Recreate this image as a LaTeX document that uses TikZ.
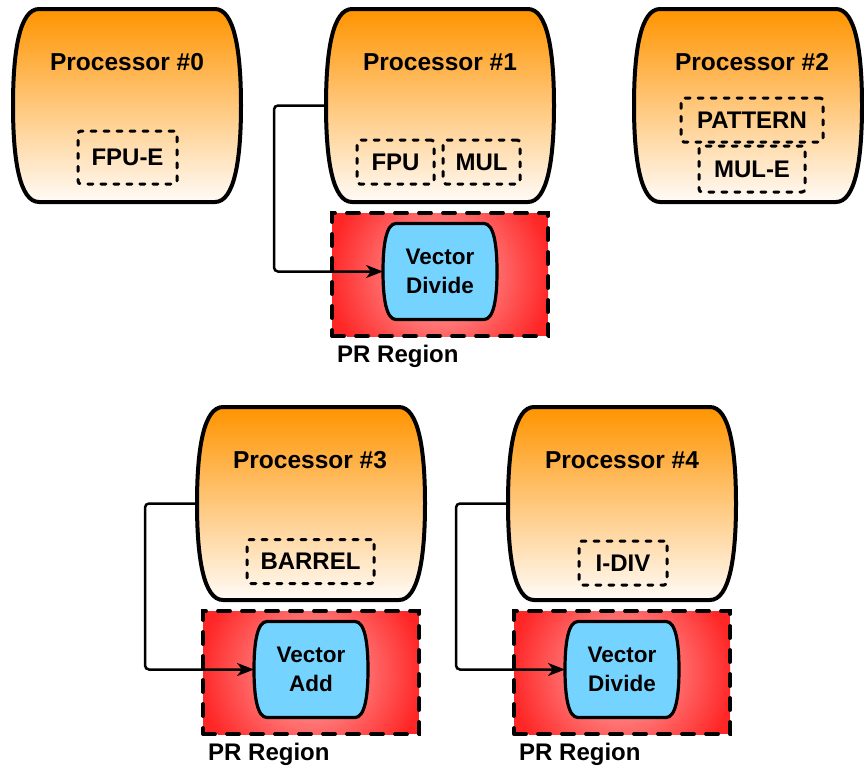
\documentclass[tikz,border=0pt]{standalone}
\usepackage{fontspec}
\setmainfont{Liberation Sans}
\usetikzlibrary{positioning,arrows.meta}

% barrel outline: flat top and bottom, sides bulging out
\makeatletter
\pgfdeclareshape{barrel}{%
  \inheritsavedanchors[from=rectangle]%
  \inheritanchorborder[from=rectangle]%
  \inheritanchor[from=rectangle]{center}%
  \inheritanchor[from=rectangle]{north}%
  \inheritanchor[from=rectangle]{south}%
  \inheritanchor[from=rectangle]{east}%
  \inheritanchor[from=rectangle]{west}%
  \inheritanchor[from=rectangle]{north east}%
  \inheritanchor[from=rectangle]{north west}%
  \inheritanchor[from=rectangle]{south east}%
  \inheritanchor[from=rectangle]{south west}%
  \backgroundpath{%
    \southwest \pgf@xa=\pgf@x \pgf@ya=\pgf@y
    \northeast \pgf@xb=\pgf@x \pgf@yb=\pgf@y
    \edef\brlL{\strip@pt\pgf@xa}\edef\brlB{\strip@pt\pgf@ya}%
    \edef\brlR{\strip@pt\pgf@xb}\edef\brlT{\strip@pt\pgf@yb}%
    \pgfmathsetmacro\brlA{0.135*(\brlT-\brlB)}%
    \pgfmathsetmacro\brlC{0.22*(\brlT-\brlB)}%
    \pgfmathsetmacro\brlM{0.5*(\brlT+\brlB)}%
    \pgfpathmoveto{\pgfpoint{\brlL+\brlA}{\brlT}}%
    \pgfpathlineto{\pgfpoint{\brlR-\brlA}{\brlT}}%
    \pgfpathcurveto{\pgfpoint{\brlR-0.25*\brlA}{\brlT}}{\pgfpoint{\brlR}{\brlT-\brlC}}{\pgfpoint{\brlR}{\brlM}}%
    \pgfpathcurveto{\pgfpoint{\brlR}{\brlB+\brlC}}{\pgfpoint{\brlR-0.25*\brlA}{\brlB}}{\pgfpoint{\brlR-\brlA}{\brlB}}%
    \pgfpathlineto{\pgfpoint{\brlL+\brlA}{\brlB}}%
    \pgfpathcurveto{\pgfpoint{\brlL+0.25*\brlA}{\brlB}}{\pgfpoint{\brlL}{\brlB+\brlC}}{\pgfpoint{\brlL}{\brlM}}%
    \pgfpathcurveto{\pgfpoint{\brlL}{\brlT-\brlC}}{\pgfpoint{\brlL+0.25*\brlA}{\brlT}}{\pgfpoint{\brlL+\brlA}{\brlT}}%
    \pgfpathclose
  }%
}
\makeatother

\definecolor{procTop}{RGB}{255,148,0}
\definecolor{procBottom}{RGB}{255,251,247}
\definecolor{regionInner}{RGB}{255,178,178}
\definecolor{regionOuter}{RGB}{255,38,38}
\definecolor{vectorFill}{RGB}{117,212,255}

\newcommand{\topRowY}{105.5}
\newcommand{\botRowY}{503.5}
\newcommand{\titleRowA}{62}
\newcommand{\titleRowB}{460}
\newcommand{\titleFont}{\fontsize{24.5}{29}\selectfont\bfseries}
\newcommand{\unitFont}{\fontsize{24}{29}\selectfont\bfseries}
\newcommand{\vecFont}{\fontsize{22.5}{29}\selectfont\bfseries}

\tikzset{
  proc/.style={shape=barrel, draw, line width=4pt, top color=procTop, bottom color=procBottom,
    minimum width=228pt, minimum height=193pt, inner sep=0pt, outer sep=0pt},
  title/.style={font=\titleFont, inner sep=0pt},
  unit/.style={draw, line width=3pt, line cap=round, dash pattern=on 5pt off 8pt, rounded corners=3pt,
    minimum height=44pt, inner sep=0pt, outer sep=0pt, font=\unitFont},
  prregion/.style={draw, line width=3.8pt, line cap=round, dash pattern=on 12pt off 12pt,
    fill=regionOuter, minimum width=216pt, minimum height=123pt, inner sep=0pt, outer sep=0pt,
    path picture={\shade[inner color=regionInner, outer color=regionOuter]
      (path picture bounding box.center) circle (112pt);}},
  vec/.style={shape=barrel, draw, line width=3.2pt, fill=vectorFill, align=center, font=\vecFont,
    minimum width=114pt, minimum height=96pt, inner sep=0pt, outer sep=0pt},
  prlabel/.style={font=\unitFont, inner sep=0pt, anchor=base west},
  link/.style={line width=2.5pt, rounded corners=4pt, -{Stealth[length=17pt,width=13pt,inset=5pt]}}
}

\begin{document}
\begin{tikzpicture}[x=1pt,y=-1pt]
    \useasboundingbox (0,0) rectangle (864,769);

    % Processors
    \node[proc] (p0) at (127,\topRowY) {};
    \node[proc] (p1) at (440,\topRowY) {};
    \node[proc] (p2) at (748,\topRowY) {};
    \node[proc] (p3) at (311,\botRowY) {};
    \node[proc] (p4) at (622,\botRowY) {};

    \node[title] (t0) at (127,\titleRowA) {Processor \#0};
    \node[title] (t1) at (440,\titleRowA) {Processor \#1};
    \node[title] (t2) at (752,\titleRowA) {Processor \#2};
    \node[title] (t3) at (310,\titleRowB) {Processor \#3};
    \node[title] (t4) at (622,\titleRowB) {Processor \#4};

    % Units inside processors
    \node[unit, minimum width=99pt, minimum height=53pt] (fpue) at (127.5,157.5) {FPU-E};
    \node[unit, minimum width=77pt] (fpu) at (395.5,162) {FPU};
    \node[unit, minimum width=77pt] (mul) at (481.5,162) {MUL};
    \node[unit, minimum width=142pt] (pattern) at (752,120) {PATTERN};
    \node[unit, minimum width=106pt, minimum height=46pt] (mule) at (752,169) {MUL-E};
    \node[unit, minimum width=127pt] (barrel) at (310.5,561.5) {BARREL};
    \node[unit, minimum width=88pt] (idiv) at (623,563) {I-DIV};

    % PR regions
    \node[prregion, below=11pt of p1] (r1) {};
    \node[prregion, below=11pt of p3] (r3) {};
    \node[prregion, below=11pt of p4] (r4) {};

    \node[vec] (v1) at ([yshift=3pt]r1.center) {Vector\\Divide};
    \node[vec] (v3) at ([yshift=3pt]r3.center) {Vector\\Add};
    \node[vec] (v4) at ([yshift=3pt]r4.center) {Vector\\Divide};

    \node[prlabel] (l1) at ([xshift=5pt,yshift=-26pt]r1.south west) {PR Region};
    \node[prlabel] (l3) at ([xshift=5pt,yshift=-26pt]r3.south west) {PR Region};
    \node[prlabel] (l4) at ([xshift=5pt,yshift=-26pt]r4.south west) {PR Region};

    % Links
    \draw[link] (p1.west) -- ++(-52,0) |- (v1.west);
    \draw[link] (p3.west) -- ++(-52,0) |- (v3.west);
    \draw[link] (p4.west) -- ++(-52,0) |- (v4.west);
\end{tikzpicture}
\end{document}
